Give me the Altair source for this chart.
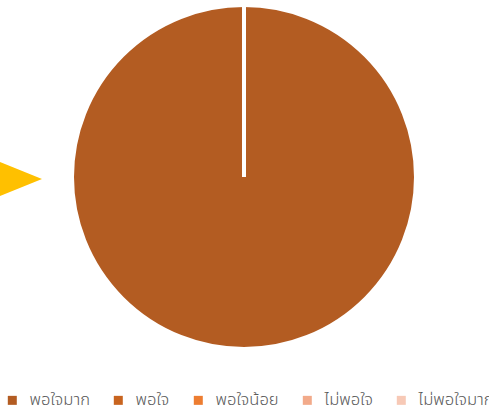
import altair as alt
import pandas as pd

categories = ["พอใจมาก", "พอใจ", "พอใจน้อย", "ไม่พอใจ", "ไม่พอใจมาก"]
values = [100, 0, 0, 0, 0]
colors = ["#b35c22", "#c8641f", "#ed7d31", "#f2aa8a", "#f7c9b6"]

df = pd.DataFrame({"cat": categories, "val": values, "order": list(range(len(categories)))})

pie = alt.Chart(df).mark_arc(outerRadius=172, stroke="white", strokeWidth=4).encode(
    theta=alt.Theta("val:Q", stack=True),
    order=alt.Order("order:Q"),
    color=alt.Color(
        "cat:N",
        scale=alt.Scale(domain=categories, range=colors),
        sort=categories,
        legend=alt.Legend(
            title=None,
            orient="none",
            legendX=4,
            legendY=392,
            direction="horizontal",
            symbolType="square",
            symbolSize=81,
            symbolStrokeWidth=0,
            labelFont="Noto Sans Thai, Noto Sans Thai UI, Noto Sans",
            labelFontSize=16.6,
            labelFontWeight=300,
            labelColor="#595959",
            labelOffset=9,
            columnPadding=20,
            labelLimit=300,
        ),
    ),
    x=alt.value(244),
    y=alt.value(177),
)

arrow_df = pd.DataFrame({"k": ["arrow"]})
arrow = alt.Chart(arrow_df).mark_point(
    shape="M -1 -0.405 L 0 0 L -1 0.405 Z",
    filled=True,
    color="#ffc000",
    opacity=1,
    size=14400,
    strokeWidth=0,
).encode(x=alt.value(42), y=alt.value(179))

chart = alt.layer(pie, arrow).properties(
    width=489, height=414, autosize=alt.AutoSizeParams(type="none"), padding=0
).configure_view(stroke=None)

chart.save("out.html", embed_options={"renderer": "svg", "actions": False})
